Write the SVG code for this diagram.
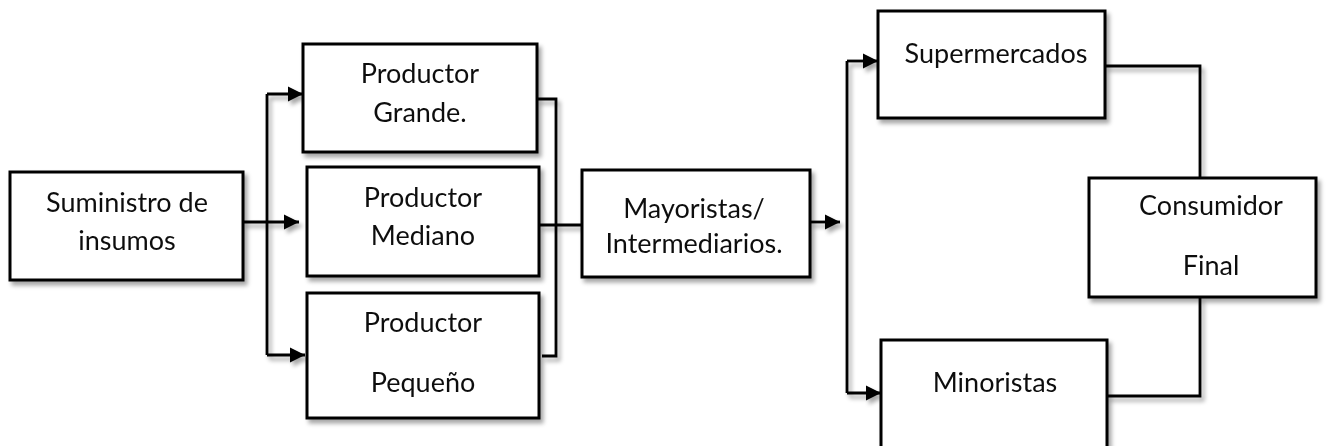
<svg xmlns="http://www.w3.org/2000/svg" width="1335" height="446" viewBox="0 0 1335 446">
  <style>
    .box { fill: #ffffff; stroke: #000000; stroke-width: 3; }
    .lbl { font-family: Lato, "Liberation Sans", sans-serif; font-size: 27px; fill: #111111; text-anchor: middle; }
    .wire { fill: none; stroke: #000000; stroke-width: 2.8; }
    .arrow { marker-end: url(#head); }
  </style>
  <defs>
    <filter id="shadow" x="-10%" y="-10%" width="130%" height="140%">
      <feDropShadow dx="3" dy="4" stdDeviation="2" flood-color="#000000" flood-opacity="0.35"/>
    </filter>
    <marker id="head" markerUnits="userSpaceOnUse" markerWidth="16" markerHeight="16" refX="15" refY="8" orient="auto">
      <path d="M0,0.5 L15,8 L0,15.5 Z" fill="#000000"/>
    </marker>
  </defs>

  <!-- connectors -->
  <g id="connectors" filter="url(#shadow)">
    <!-- supply fan-out to producers -->
    <path class="wire" d="M267,94 V355"/>
    <path class="wire arrow" d="M267,94 H303"/>
    <path class="wire arrow" d="M243,222 H299"/>
    <path class="wire arrow" d="M267,355 H305"/>
    <!-- producers merge into wholesalers -->
    <path class="wire" d="M537,99 H556 V356 H542"/>
    <path class="wire" d="M540,225 H582"/>
    <!-- wholesalers fan-out to retail -->
    <path class="wire arrow" d="M810,222 H840"/>
    <path class="wire" d="M847,61 V393"/>
    <path class="wire arrow" d="M847,61 H878"/>
    <path class="wire arrow" d="M847,393 H881"/>
    <!-- retail to final consumer -->
    <path class="wire" d="M1105,66 H1200 V178"/>
    <path class="wire" d="M1200,297 V396 H1107"/>
  </g>

  <g id="suministro" filter="url(#shadow)">
    <rect class="box" x="10" y="172" width="233" height="108"/>
    <text class="lbl" x="127" y="212">Suministro de</text>
    <text class="lbl" x="127" y="250">insumos</text>
  </g>

  <g id="productor-grande" filter="url(#shadow)">
    <rect class="box" x="303" y="44" width="234" height="108"/>
    <text class="lbl" x="420" y="83">Productor</text>
    <text class="lbl" x="420" y="122">Grande.</text>
  </g>

  <g id="productor-mediano" filter="url(#shadow)">
    <rect class="box" x="307" y="167" width="232" height="109"/>
    <text class="lbl" x="423" y="207">Productor</text>
    <text class="lbl" x="423" y="245">Mediano</text>
  </g>

  <g id="productor-pequeno" filter="url(#shadow)">
    <rect class="box" x="307" y="293" width="232" height="125"/>
    <text class="lbl" x="423" y="332">Productor</text>
    <text class="lbl" x="423" y="392">Pequeño</text>
  </g>

  <g id="mayoristas" filter="url(#shadow)">
    <rect class="box" x="582" y="170" width="228" height="107"/>
    <text class="lbl" x="694" y="218">Mayoristas/</text>
    <text class="lbl" x="694" y="253">Intermediarios.</text>
  </g>

  <g id="supermercados" filter="url(#shadow)">
    <rect class="box" x="878" y="11" width="227" height="107"/>
    <text class="lbl" x="996" y="63">Supermercados</text>
  </g>

  <g id="minoristas" filter="url(#shadow)">
    <rect class="box" x="881" y="340" width="226" height="120"/>
    <text class="lbl" x="995" y="392">Minoristas</text>
  </g>

  <g id="consumidor-final" filter="url(#shadow)">
    <rect class="box" x="1089" y="178" width="227" height="119"/>
    <text class="lbl" x="1211" y="215">Consumidor</text>
    <text class="lbl" x="1211" y="275">Final</text>
  </g>
</svg>
